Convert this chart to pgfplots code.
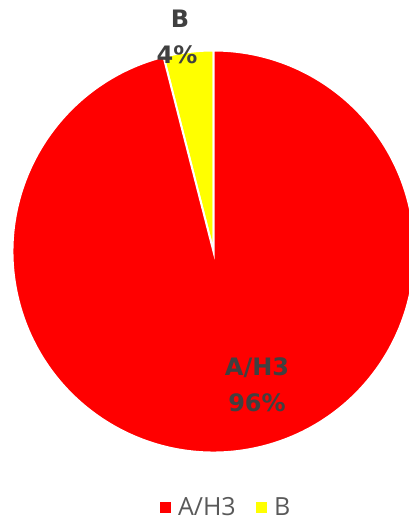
\documentclass[border=0pt]{standalone}
\usepackage{pgfplots}
\pgfplotsset{compat=1.18}
\usepackage{pgfplotstable}
\usepackage{fontspec}
\setmainfont{Open Sans}
\newfontfamily\lblfont{DejaVu Sans Bold}
\definecolor{lbl}{HTML}{404040}
\definecolor{leg}{HTML}{595959}
\definecolor{sred}{HTML}{FF0000}
\definecolor{syel}{HTML}{FFFF00}
\pgfplotstableread{
label value
A/H3 96
B 4
}\piedata
\begin{document}
\begin{tikzpicture}[x=1pt,y=1pt]
\useasboundingbox (0,0) rectangle (409,522);
\begin{axis}[at={(0,0)}, anchor=south west, scale only axis,
  width=409pt, height=522pt, xmin=0, xmax=409, ymin=0, ymax=522,
  hide axis, clip=true,
  legend style={at={(axis cs:226,15)}, anchor=center, draw=none, fill=none,
    legend columns=2, font=\fontsize{25}{25}\selectfont, text=leg,
    /tikz/every odd column/.append style={column sep=6pt},
    /tikz/every even column/.append style={column sep=18pt}},
  legend image code/.code={\fill[#1] (0pt,-5pt) rectangle (10pt,5pt);}]
\pgfplotstablegetelem{0}{value}\of\piedata \let\va\pgfplotsretval
\pgfplotstablegetelem{1}{value}\of\piedata \let\vb\pgfplotsretval
\pgfmathsetmacro{\ab}{90+3.6*\vb}
\pgfmathsetmacro{\ae}{\ab+3.6*\va}
\fill[syel, draw=white, line width=2pt] (axis cs:213.5,270.5) -- ++(90:201pt) arc[start angle=90, end angle=\ab, radius=201pt] -- cycle;
\fill[sred, draw=white, line width=2pt] (axis cs:213.5,270.5) -- ++(\ab:201pt) arc[start angle=\ab, end angle=\ae, radius=201pt] -- cycle;
\addlegendimage{sred}
\addlegendentry{A/H3}
\addlegendimage{syel}
\addlegendentry{B}
\node[font=\lblfont\fontsize{24}{24}\selectfont, text=lbl] at (axis cs:180,503) {B};
\node[font=\lblfont\fontsize{24}{24}\selectfont, text=lbl] at (axis cs:177,467) {4\%};
\node[font=\lblfont\fontsize{24}{24}\selectfont, text=lbl] at (axis cs:257,154) {A/H3};
\node[font=\lblfont\fontsize{24}{24}\selectfont, text=lbl] at (axis cs:257,119) {96\%};
\end{axis}
\end{tikzpicture}
\end{document}
